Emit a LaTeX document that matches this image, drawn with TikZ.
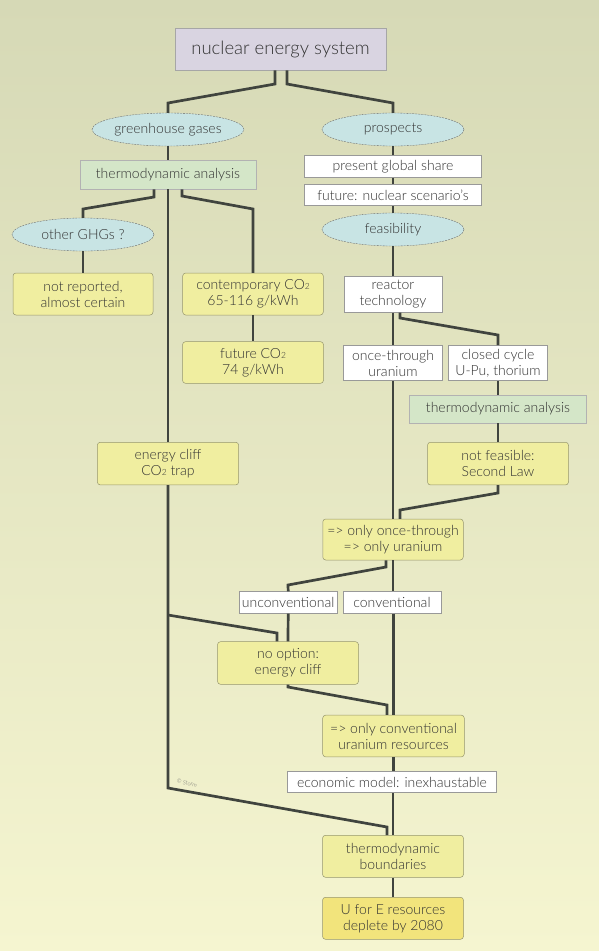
\documentclass[tikz,border=0pt]{standalone}
\usepackage{fontspec}
\setmainfont{Lato}[UprightFont={* Light}]
\usetikzlibrary{shapes.geometric}
\definecolor{bgtop}{RGB}{214,217,182}
\definecolor{bgbot}{RGB}{245,245,208}
\definecolor{linec}{RGB}{64,68,62}
\definecolor{yel}{RGB}{240,238,160}
\definecolor{yeldark}{RGB}{242,228,124}
\definecolor{ybord}{RGB}{150,150,110}
\definecolor{grn}{RGB}{212,230,200}
\definecolor{blu}{RGB}{200,228,228}
\definecolor{lav}{RGB}{217,212,225}
\definecolor{txt}{RGB}{50,50,50}
\newcommand{\cotwo}{CO{\fontsize{8.5}{8.5}\selectfont 2}}
\tikzset{
  conn/.style={draw=linec, line width=2.7pt},
  base/.style={inner sep=0pt, align=center, text=txt, font=\fontsize{14}{16}\selectfont},
  ybox/.style={base, rectangle, rounded corners=3pt, fill=yel, draw=ybord, line width=0.5pt},
  wbox/.style={base, rectangle, fill=white, draw=gray!80, line width=0.6pt},
  gbox/.style={base, rectangle, fill=grn, draw=gray!60, line width=0.5pt},
  ell/.style={base, ellipse, fill=blu, draw=gray!80!black, dash pattern=on 2pt off 1pt, line width=0.35pt},
}
\begin{document}
\begin{tikzpicture}[x=1pt,y=1pt]
\shade[top color=bgtop, bottom color=bgbot] (0,0) rectangle (599,-951);
\useasboundingbox (0,0) rectangle (599,-951);

% nodes
\node[base, rectangle, fill=lav, draw=gray!70, line width=0.6pt, minimum width=211pt, minimum height=42pt, font=\fontsize{18.5}{20}\selectfont] (top) at (280.5,-49) {nuclear energy system};
\node[ell, minimum width=142pt, minimum height=33pt] (gh) at (168,-129.5) {greenhouse gases};
\node[ell, minimum width=142pt, minimum height=33pt] (pro) at (393,-129.5) {prospects};
\node[gbox, minimum width=176pt, minimum height=29pt] (ta1) at (168,-174.5) {thermodynamic analysis};
\node[wbox, minimum width=177pt, minimum height=21.6pt] (pgs) at (393,-166.5) {present global share};
\node[wbox, minimum width=177pt, minimum height=21.4pt] (fns) at (393,-195) {future: nuclear scenario's};
\node[ell, minimum width=142pt, minimum height=33pt] (feas) at (393,-229.5) {feasibility};
\node[ell, minimum width=142pt, minimum height=33pt] (og) at (83,-234.5) {other GHGs ?};
\node[ybox, minimum width=140pt, minimum height=42pt] (nr) at (83,-294) {not reported,\\almost certain};
\node[ybox, minimum width=140.6pt, minimum height=42pt] (cc) at (253,-294) {contemporary \cotwo\\65-116 g/kWh};
\node[ybox, minimum width=141pt, minimum height=41.6pt] (fc) at (253,-362.5) {future \cotwo\\74 g/kWh};
\node[wbox, minimum width=98pt, minimum height=35.6pt] (rt) at (393,-294.5) {reactor\\technology};
\node[wbox, minimum width=98.5pt, minimum height=35pt] (ot) at (393,-363) {once-through\\uranium};
\node[wbox, minimum width=99pt, minimum height=35pt] (cl) at (498,-363) {closed cycle\\U-Pu, thorium};
\node[gbox, minimum width=177pt, minimum height=28.3pt] (ta2) at (498,-409) {thermodynamic analysis};
\node[ybox, minimum width=141pt, minimum height=42.7pt] (nf) at (498,-463.6) {not feasible:\\Second Law};
\node[ybox, minimum width=141.3pt, minimum height=42.7pt] (ec) at (168,-463.6) {energy cliff\\\cotwo{} trap};
\node[ybox, minimum width=140.5pt, minimum height=41pt] (oo) at (393,-539.5) {=> only once-through\\=> only uranium};
\node[wbox, minimum width=97.5pt, minimum height=21.6pt] (unc) at (288.2,-602.5) {unconventional};
\node[wbox, minimum width=98.4pt, minimum height=21.6pt] (con) at (392,-602.5) {conventional};
\node[ybox, minimum width=141pt, minimum height=42.6pt] (no) at (288,-663) {no option:\\energy cliff};
\node[ybox, minimum width=141.6pt, minimum height=41.7pt] (oc) at (393.5,-736) {=> only conventional\\uranium resources};
\node[wbox, minimum width=209.4pt, minimum height=21pt] (eco) at (392,-782.2) {economic model: inexhaustable};
\node[ybox, minimum width=141pt, minimum height=42pt] (tb) at (393,-856.3) {thermodynamic\\boundaries};
\node[ybox, fill=yeldark, minimum width=141pt, minimum height=42pt] (ud) at (393,-918.3) {U for E resources\\deplete by 2080};
\node[base, text=gray!80!black, font=\fontsize{5.5}{6}\selectfont, rotate=-12] (storm) at (187,-783) {\textcopyright\ Storm};

% branch points on the long left line
\coordinate (lb1) at (168,-615);
\coordinate (lb2) at (168,-788);

% connectors
\draw[conn] ([xshift=-5.5pt]top.south) -- (275,-84) -- (168,-103) -- (gh.north);
\draw[conn] ([xshift=6.5pt]top.south) -- (287,-84) -- (393,-103) -- (pro.north);
\draw[conn] (gh.south) -- (ta1.north);
\draw[conn] ([xshift=-14pt]ta1.south) -- (154,-197) -- (83,-209) -- (og.north);
\draw[conn] (ta1.south) -- (ec.north);
\draw[conn] ([xshift=14pt]ta1.south) -- (182,-196) -- (253,-209) -- (cc.north);
\draw[conn] (og.south) -- (nr.north);
\draw[conn] (cc.south) -- (fc.north);
\draw[conn] (pro.south) -- (pgs.north);
\draw[conn] (pgs.south) -- (fns.north);
\draw[conn] (fns.south) -- (feas.north);
\draw[conn] (feas.south) -- (rt.north);
\draw[conn] (rt.south) -- (ot.north);
\draw[conn] ([xshift=7pt]rt.south) -- (400,-318) -- (498,-335) -- (cl.north);
\draw[conn] (cl.south) -- (ta2.north);
\draw[conn] (ta2.south) -- (nf.north);
\draw[conn] (nf.south) -- (498,-493) -- (400,-510) -- ([xshift=7pt]oo.north);
\draw[conn] (ot.south) -- (oo.north);
\draw[conn] (ec.south) -- (lb2) -- (387,-827) -- ([xshift=-6pt]tb.north);
\draw[conn] (lb1) -- (277,-633) -- ([xshift=-11pt]no.north);
\draw[conn] ([xshift=-7pt]oo.south) -- (386,-567) -- (288,-585) -- (unc.north);
\draw[conn] (oo.south) -- (oo.south |- con.north);
\draw[conn] (unc.south) -- (no.north);
\draw[conn] (no.south) -- (288,-687) -- (387,-705) -- ([xshift=-6.5pt]oc.north);
\draw[conn] (con.south -| oc.south) -- (oc.north);
\draw[conn] (oc.south) -- (eco.north -| oc.south);
\draw[conn] (eco.south -| tb.north) -- (tb.north);
\draw[conn] (tb.south) -- (ud.north);
\end{tikzpicture}
\end{document}
